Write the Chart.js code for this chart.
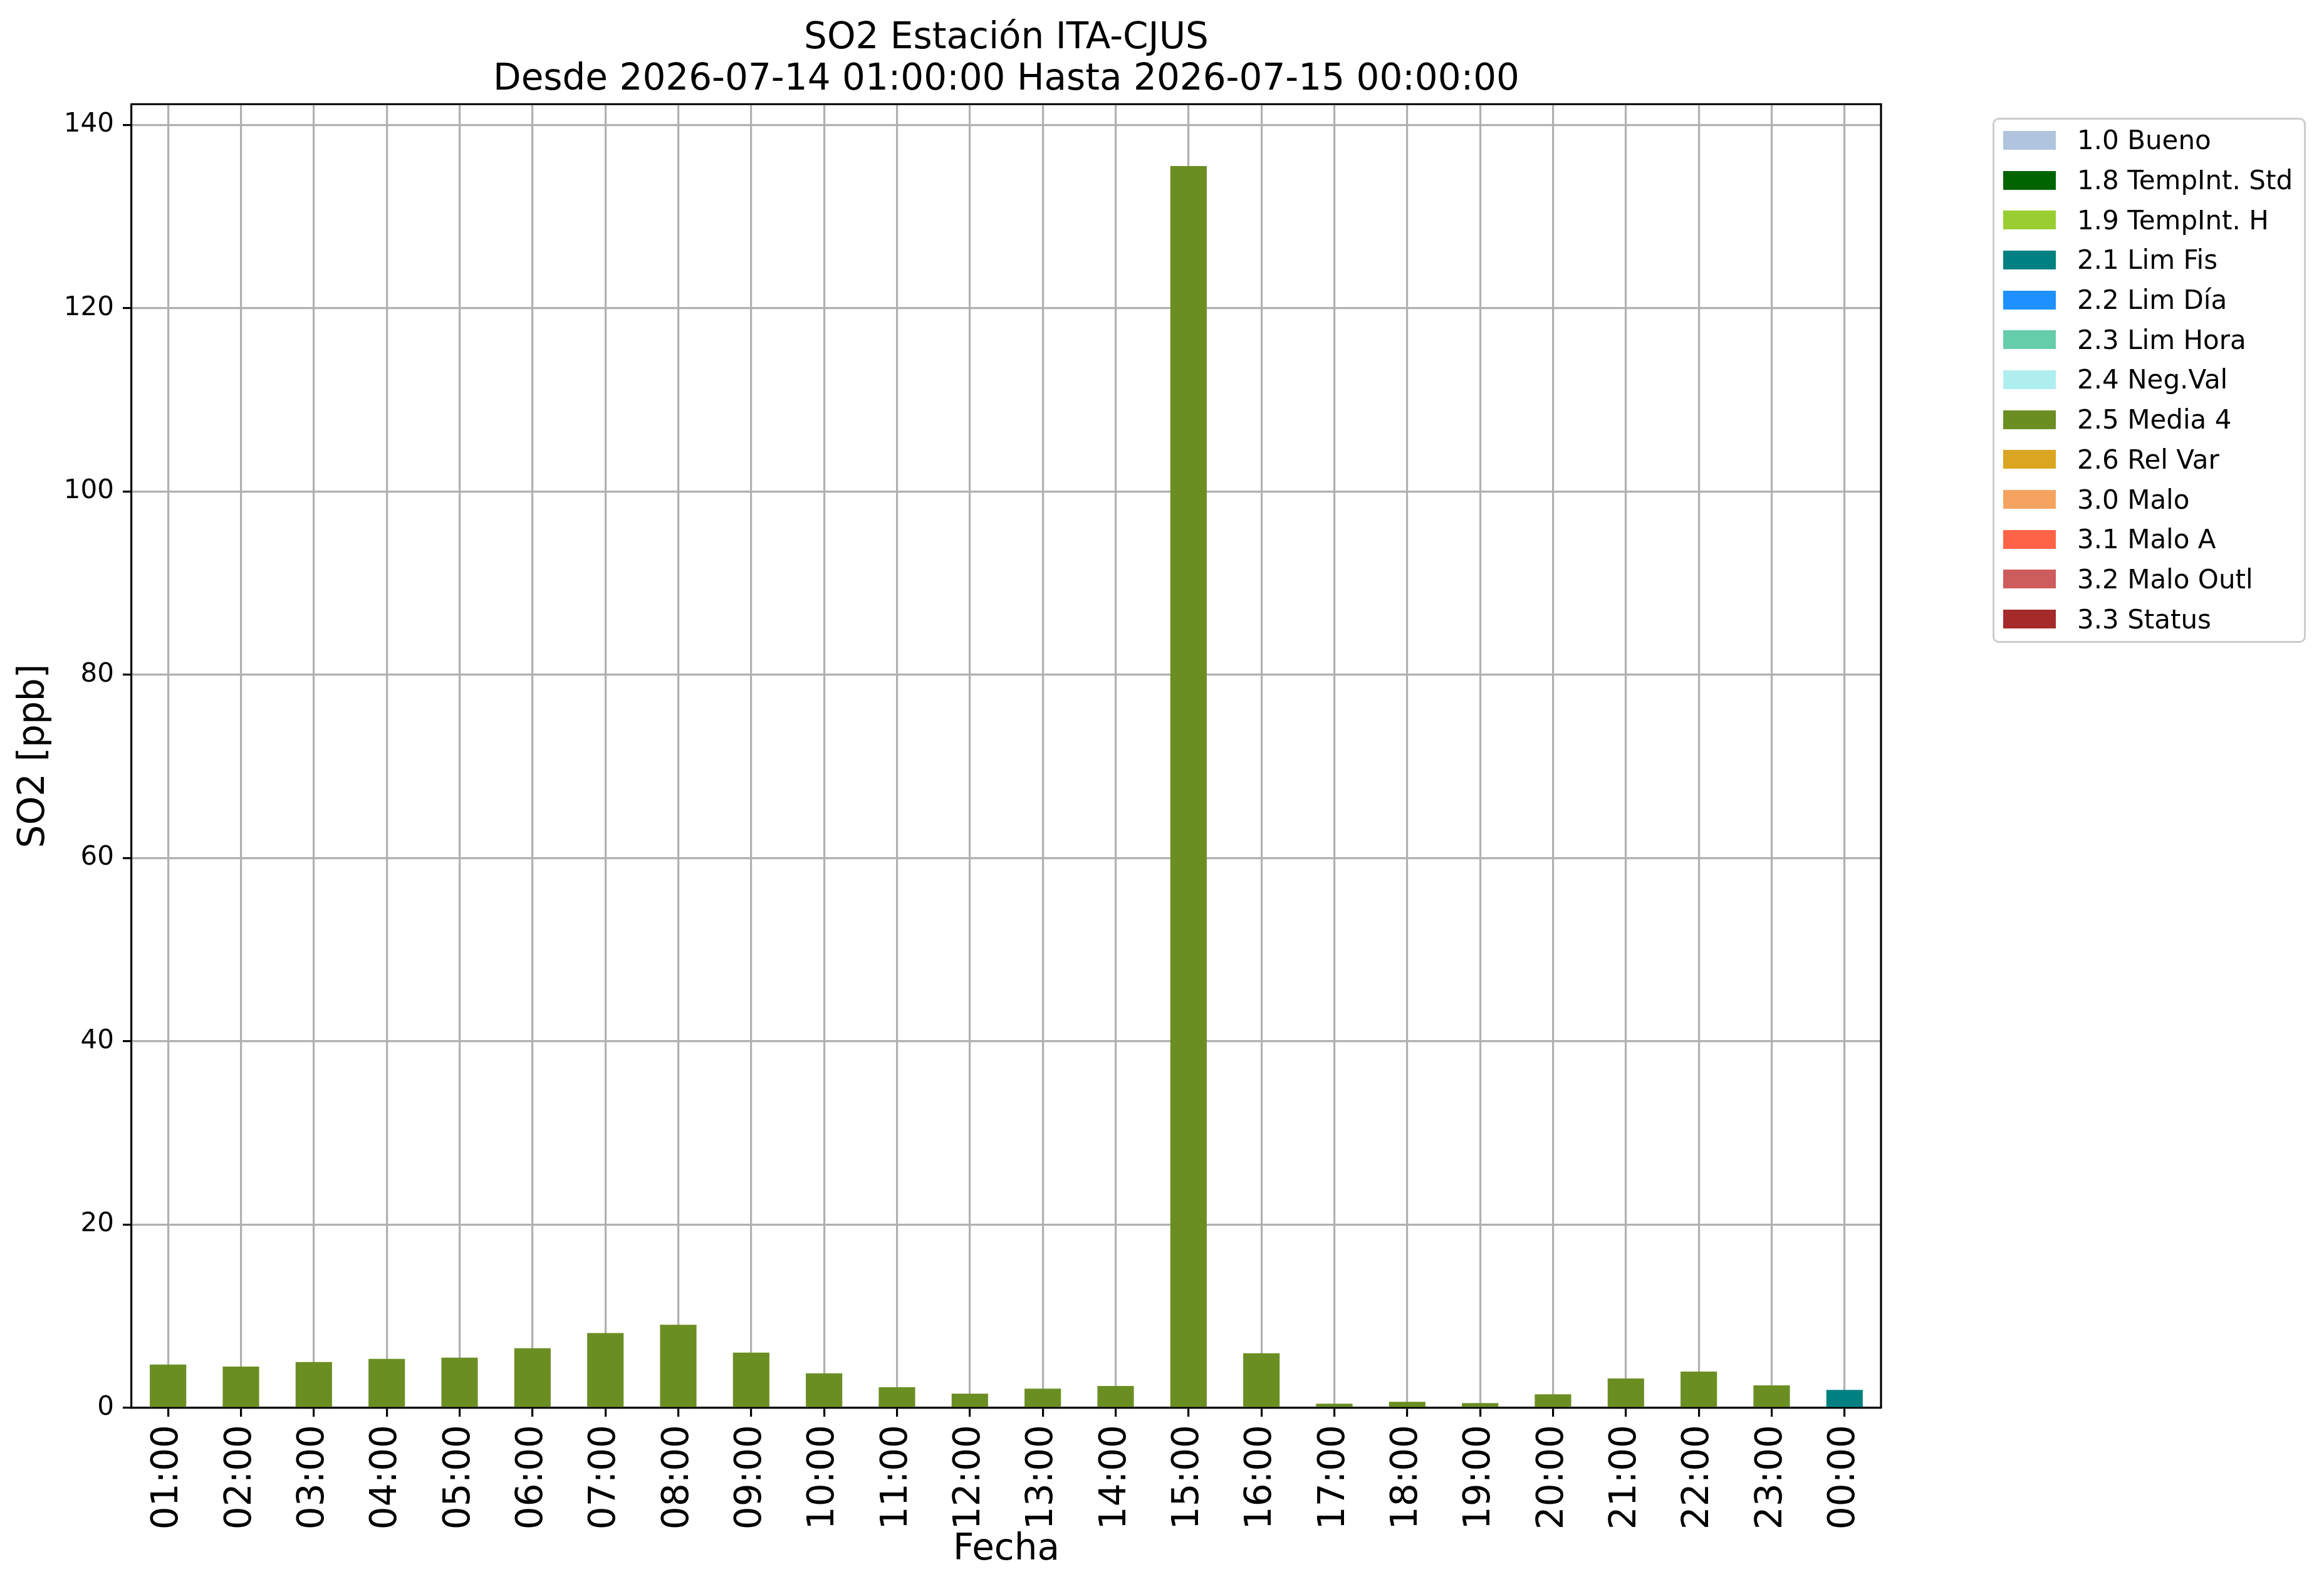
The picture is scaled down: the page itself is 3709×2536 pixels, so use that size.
<!DOCTYPE html>
<html>
<head>
<meta charset="utf-8">
<script src="https://cdn.jsdelivr.net/npm/chart.js@4"></script>
<style>
  body { margin: 0; background: #fff; }
  #wrap { position: relative; width: 3709px; height: 2536px; }
  #legend {
    position: absolute; left: 3180px; top: 188px; width: 500px; height: 838px;
    border: 3px solid #cccccc; border-radius: 10px; box-sizing: border-box;
    font-family: 'DejaVu Sans', sans-serif; font-size: 42px; color: #000;
    padding-top: 1px;
  }
  .row { display: flex; align-items: center; height: 63.7px; }
  .sw { width: 84px; height: 30px; margin-left: 14px; margin-right: 34px; }
</style>
</head>
<body>
<div id="wrap">
  <canvas id="chart" width="3709" height="2536"></canvas>
  <div id="legend"></div>
</div>
<script>
// hourly categories
const hours = ['01:00','02:00','03:00','04:00','05:00','06:00','07:00','08:00','09:00','10:00','11:00','12:00',
               '13:00','14:00','15:00','16:00','17:00','18:00','19:00','20:00','21:00','22:00','23:00','00:00'];

// SO2 values [ppb] per flag
const media4 = [4.73, 4.52, 5.01, 5.35, 5.49, 6.52, 8.17, 9.07, 6.04, 3.77, 2.25, 1.56,
                2.11, 2.39, 135.5, 5.97, 0.46, 0.67, 0.53, 1.49, 3.21, 3.97, 2.46, null];
const limFis = [null, null, null, null, null, null, null, null, null, null, null, null,
                null, null, null, null, null, null, null, null, null, null, null, 1.97];

// flag legend
const flagLabels = ['1.0 Bueno', '1.8 TempInt. Std', '1.9 TempInt. H', '2.1 Lim Fis', '2.2 Lim Día',
                    '2.3 Lim Hora', '2.4 Neg.Val', '2.5 Media 4', '2.6 Rel Var', '3.0 Malo',
                    '3.1 Malo A', '3.2 Malo Outl', '3.3 Status'];
const flagColors = ['#B0C4DE', '#006400', '#9ACD32', '#008080', '#1E90FF',
                    '#66CDAA', '#AFEEEE', '#6B8E23', '#DAA520', '#F4A460',
                    '#FF6347', '#CD5C5C', '#A52A2A'];

const yTicks = [0, 20, 40, 60, 80, 100, 120, 140];

const seriesByFlag = { '2.1 Lim Fis': limFis, '2.5 Media 4': media4 };

const datasets = flagLabels.map((lab, i) => ({
    label: lab,
    data: seriesByFlag[lab] || hours.map(() => null),
    backgroundColor: flagColors[i],
    borderWidth: 0,
    barPercentage: 0.5,
    categoryPercentage: 1.0
}));

const FONT = "'DejaVu Sans', sans-serif";
const LW = 3.2;

// top + right spines
const frameBox = {
    id: 'frameBox',
    afterDraw(chart) {
        const { ctx, chartArea: a } = chart;
        ctx.save();
        ctx.strokeStyle = '#000';
        ctx.lineWidth = LW;
        ctx.beginPath();
        ctx.moveTo(a.left, a.top);
        ctx.lineTo(a.right, a.top);
        ctx.lineTo(a.right, a.bottom);
        ctx.stroke();
        ctx.restore();
    }
};

const chart = new Chart(document.getElementById('chart'), {
    type: 'bar',
    data: { labels: hours, datasets: datasets },
    plugins: [frameBox],
    options: {
        responsive: false,
        animation: false,
        devicePixelRatio: 1,
        layout: { padding: { left: 0, right: 707, top: 0, bottom: 0 } },
        plugins: {
            legend: { display: false },
            tooltip: { enabled: false },
            title: {
                display: true,
                fullSize: false,
                text: ['SO2 Estación ITA-CJUS', 'Desde 2026-07-14 01:00:00 Hasta 2026-07-15 00:00:00'],
                color: '#000',
                font: { family: FONT, size: 58, weight: 'normal', lineHeight: 1.14 },
                padding: { top: 29, bottom: 5 }
            }
        },
        scales: {
            x: {
                stacked: true,
                z: 1,
                offset: true,
                afterFit(s) { s.height = 289; },
                grid: { offset: false, color: '#b0b0b0', lineWidth: LW, tickColor: '#000', tickWidth: LW, tickLength: 14 },
                border: { color: '#000', width: LW },
                ticks: { color: '#000', font: { family: FONT, size: 58 }, minRotation: 90, maxRotation: 90, padding: 13, autoSkip: false },
                title: { display: true, text: 'Fecha', color: '#000', font: { family: FONT, size: 58 }, padding: { top: 0, bottom: 27 } }
            },
            y: {
                stacked: true,
                z: 1,
                min: 0,
                max: 142.25,
                afterFit(s) { s.width = 210; },
                afterBuildTicks(s) { s.ticks = yTicks.map(v => ({ value: v })); },
                grid: { color: '#b0b0b0', lineWidth: LW, tickColor: '#000', tickWidth: LW, tickLength: 14 },
                border: { color: '#000', width: LW },
                ticks: { color: '#000', font: { family: FONT, size: 42 }, padding: 14 },
                title: { display: true, text: 'SO2 [ppb]', color: '#000', font: { family: FONT, size: 58 }, padding: { top: 20, bottom: 0 } }
            }
        }
    }
});

// legend built from the chart's datasets
const legendEl = document.getElementById('legend');
chart.data.datasets.forEach(ds => {
    const row = document.createElement('div');
    row.className = 'row';
    const sw = document.createElement('span');
    sw.className = 'sw';
    sw.style.background = ds.backgroundColor;
    const tx = document.createElement('span');
    tx.textContent = ds.label;
    row.appendChild(sw);
    row.appendChild(tx);
    legendEl.appendChild(row);
});
</script>
</body>
</html>
